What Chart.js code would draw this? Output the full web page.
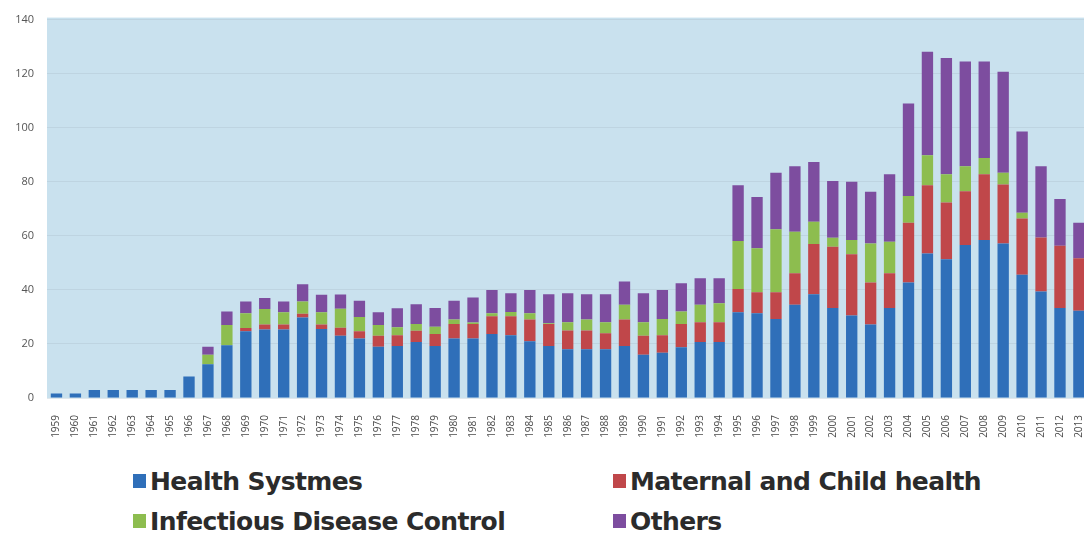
<!DOCTYPE html>
<html>
<head>
<meta charset="utf-8">
<script src="https://cdn.jsdelivr.net/npm/chart.js@4.4.1/dist/chart.umd.min.js"></script>
<style>
  html, body { margin: 0; padding: 0; background: #fff; overflow: hidden; }
  #wrap { position: relative; width: 1084px; height: 535px; overflow: hidden; }
  #box { position: absolute; left: 0; top: 0; width: 1100px; height: 440px; }
  #legend { position: absolute; left: 133px; top: 461px; font-family: "DejaVu Sans", sans-serif;
            font-weight: bold; font-size: 25px; color: #2b2b2b; letter-spacing: -0.6px; }
  .row { display: flex; height: 40px; align-items: center; }
  .item { display: flex; align-items: center; width: 480px; }
  .sw { width: 13px; height: 14px; margin-right: 4px; }
</style>
</head>
<body>
<div id="wrap">
  <div id="box"><canvas id="chart1"></canvas></div>
  <div id="legend"></div>
</div>
<script>
// years on the x axis
const years = [];
for (let y = 1959; y <= 2013; y++) years.push(String(y));

// series values
const healthSystems = [1.7,1.7,3,3,3,3,3,8,
  12.5,19.5,24.7,25.3,25.3,29.8,25.5,23,22,19,
  19.2,20.7,19.2,22,22,23.7,23.2,21,19.2,18,
  18,18,19.2,16,16.7,18.8,20.7,20.7,31.7,31.4,
  29.2,34.5,38.4,33.3,30.5,27.2,33.3,42.7,53.5,51.3,
  56.6,58.5,57.2,45.6,39.4,33.3,32.3];
const maternalChild = [0,0,0,0,0,0,0,0,
  0,0,1.2,1.9,1.9,1.4,1.7,3,2.7,4,
  4,4.2,4.5,5.4,5.4,6.5,7,8,8.2,7,
  7,6,9.8,7,6.5,8.6,7.3,7.3,8.6,7.7,
  9.9,11.7,18.6,22.7,22.7,15.5,12.9,22.1,25.2,21,
  19.9,24.3,21.8,20.8,20,23,19.4];
const infectious = [0,0,0,0,0,0,0,0,
  3.5,7.5,5.5,5.7,4.5,4.5,4.5,7,5.3,4,
  3,2.5,2.7,1.6,0.5,1.2,1.6,2.4,0.3,3,
  4,4,5.5,5,6,4.6,6.5,7.1,17.8,16.3,
  23.3,15.3,8.2,3.3,5.3,14.5,11.6,9.9,11.1,10.5,
  9.2,6,4.3,2.1,0,0,0];
const others = [0,0,0,0,0,0,0,0,
  3,5,4.3,4.1,4,6.4,6.5,5.3,6,4.7,
  7,7.3,6.9,7,9.3,8.6,7,8.6,10.7,10.8,
  9.4,10.4,8.6,10.8,10.8,10.5,9.8,9.2,20.6,19,
  20.9,24.2,22.1,21,21.5,19.1,25,34.3,38.3,43,
  38.8,35.7,37.4,30.1,26.3,17.3,13.1];

const seriesNames = ['Health Systmes', 'Maternal and Child health', 'Infectious Disease Control', 'Others'];
const seriesColors = ['#2f6fb9', '#c0474a', '#8dbd4f', '#7d4d9f'];

// light blue plot background
const plotBg = {
  id: 'plotBg',
  beforeDraw(chart) {
    const a = chart.chartArea, ctx = chart.ctx;
    ctx.save();
    ctx.fillStyle = '#c9e1ee';
    ctx.fillRect(a.left, a.top - 2, a.right - a.left, a.bottom - a.top + 2);
    ctx.restore();
  }
};

const canvas1 = document.getElementById('chart1');
const allData = [healthSystems, maternalChild, infectious, others];

new Chart(canvas1, {
  type: 'bar',
  data: {
    labels: years,
    datasets: allData.map(function(d, i) {
      return {
        label: seriesNames[i],
        data: d,
        backgroundColor: seriesColors[i],
        barPercentage: 0.6,
        categoryPercentage: 1.0
      };
    })
  },
  options: {
    responsive: true,
    maintainAspectRatio: false,
    animation: false,
    layout: { padding: { top: 12, right: 10, left: 0, bottom: 0 } },
    plugins: { legend: { display: false }, tooltip: { enabled: false } },
    scales: {
      x: {
        stacked: true,
        grid: { display: false },
        border: { display: false },
        ticks: {
          minRotation: 90, maxRotation: 90, autoSkip: false,
          color: '#4a4a4a', padding: 9,
          font: { family: 'Open Sans', size: 10 }
        },
        afterFit(scale) { scale.height = 42; }
      },
      y: {
        stacked: true,
        min: 0, max: 140,
        ticks: { stepSize: 20, color: '#555', padding: 13, font: { family: 'Open Sans', size: 11 } },
        grid: { color: 'rgba(170,190,200,0.35)', drawTicks: false },
        border: { display: false },
        afterFit(scale) { scale.width = 47; }
      }
    }
  },
  plugins: [plotBg]
});

// html legend in two columns
const legend = document.getElementById('legend');
[[0, 1], [2, 3]].forEach(function(pair) {
  const row = document.createElement('div');
  row.className = 'row';
  pair.forEach(function(i) {
    const item = document.createElement('div');
    item.className = 'item';
    item.innerHTML = '<span class="sw" style="background:' + seriesColors[i] + '"></span><span>' + seriesNames[i] + '</span>';
    row.appendChild(item);
  });
  legend.appendChild(row);
});
</script>
</body>
</html>
